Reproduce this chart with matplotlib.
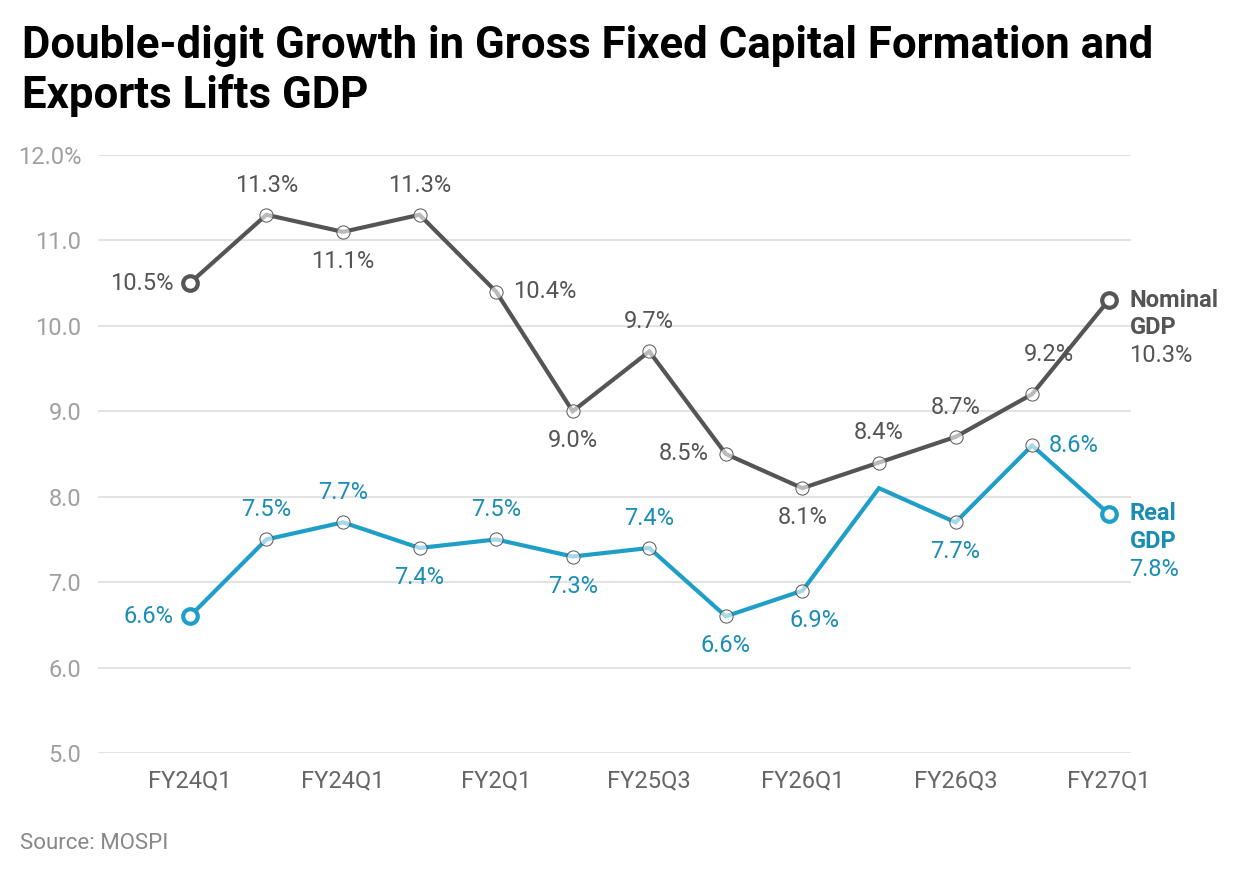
import numpy as np
import matplotlib.pyplot as plt

plt.rcParams['font.family'] = ['Roboto', 'DejaVu Sans']

# data
quarters = ['FY24Q1', '', 'FY24Q1', '', 'FY2Q1', '', 'FY25Q3', '', 'FY26Q1', '', 'FY26Q3', '', 'FY27Q1']
nominal = [10.5, 11.3, 11.1, 11.3, 10.4, 9.0, 9.7, 8.5, 8.1, 8.4, 8.7, 9.2, 10.3]
real = [6.6, 7.5, 7.7, 7.4, 7.5, 7.3, 7.4, 6.6, 6.9, 8.1, 7.7, 8.6, 7.8]

# label placement per point: 'a' above, 'b' below, 'l' left, 'r' right, None = no label
nom_pos = ['l', 'a', 'b', 'a', 'r', 'b', 'a', 'l', 'b', 'a', 'a', 'a+', None]
real_pos = ['l', 'a', 'a', 'b', 'a', 'b', 'a', 'b', 'b+', None, 'b', 'r', None]

GRAY = '#555555'
BLUE = '#1f9fc8'
BLUE_TXT = '#1a8db5'
FS = 17

fig = plt.figure(figsize=(12.4, 8.8), dpi=100)
ax = fig.add_axes([0.079, 0.1443, 0.833, 0.6796])

x = np.arange(len(nominal))

offsets = {'a': (0, 13, 'center', 'bottom'), 'b': (0, -13, 'center', 'top'),
           'l': (-12, 0, 'right', 'center'), 'r': (12, 0, 'left', 'center'),
           'a+': (12, 20, 'center', 'bottom'), 'b+': (9, -13, 'center', 'top')}


def draw(vals, color, txtcolor, pos):
    ax.plot(x, vals, color=color, lw=3, zorder=3, solid_joinstyle='miter')
    for i, v in enumerate(vals):
        last = i == len(vals) - 1
        if pos[i] is None and not last:
            continue
        if i == 0 or last:
            ax.plot(i, v, 'o', ms=10.5, mfc='white', mec=color, mew=3, zorder=4)
        else:
            ax.plot(i, v, 'o', ms=9.5, mfc=(1, 1, 1, 0.6), mec=GRAY, mew=0.7, zorder=4)
        if pos[i] is None:
            continue
        dx, dy, ha, va = offsets[pos[i]]
        ax.annotate(f'{v:.1f}%', (i, v), xytext=(dx, dy), textcoords='offset points',
                    ha=ha, va=va, fontsize=FS, color=txtcolor)


draw(nominal, GRAY, GRAY, nom_pos)
draw(real, BLUE, BLUE_TXT, real_pos)

# end labels
def end_label(name, v, color):
    ax.annotate(name, (12, v), xytext=(15, 0), textcoords='offset points',
                ha='left', va='center', fontsize=FS, fontweight='bold', color=color)
    ax.annotate('GDP', (12, v), xytext=(15, -20), textcoords='offset points',
                ha='left', va='center', fontsize=FS, fontweight='bold', color=color)
    ax.annotate(f'{v:.1f}%', (12, v), xytext=(15, -40), textcoords='offset points',
                ha='left', va='center', fontsize=FS, color=color)


end_label('Nominal', nominal[-1], GRAY)
end_label('Real', real[-1], BLUE_TXT)

ax.set_xlim(-1.2, 12.29)
ax.set_ylim(5, 12)
ticks = np.arange(5, 13, 1)
ax.set_yticks(ticks)
ax.set_yticklabels([f'{v:.1f}%' if v == 12 else f'{v:.1f}' for v in ticks])
ax.set_xticks(x[::2])
ax.set_xticklabels(quarters[::2])
ax.grid(axis='y', color='#e3e3e3', lw=1.5)
ax.set_axisbelow(True)
for s in ax.spines.values():
    s.set_visible(False)
ax.tick_params(axis='y', length=0, labelsize=FS, labelcolor='#a0a0a0', pad=12)
ax.tick_params(axis='x', length=0, labelsize=FS, labelcolor='#666666', pad=12)

fig.text(0.018, 0.972, 'Double-digit Growth in Gross Fixed Capital Formation and\nExports Lifts GDP',
         ha='left', va='top', fontsize=31.5, fontweight='bold', color='black', linespacing=1.22)
fig.text(0.016, 0.03, 'Source: MOSPI', ha='left', va='bottom', fontsize=16, color='#888888')

fig.savefig('out.png', dpi=100)
